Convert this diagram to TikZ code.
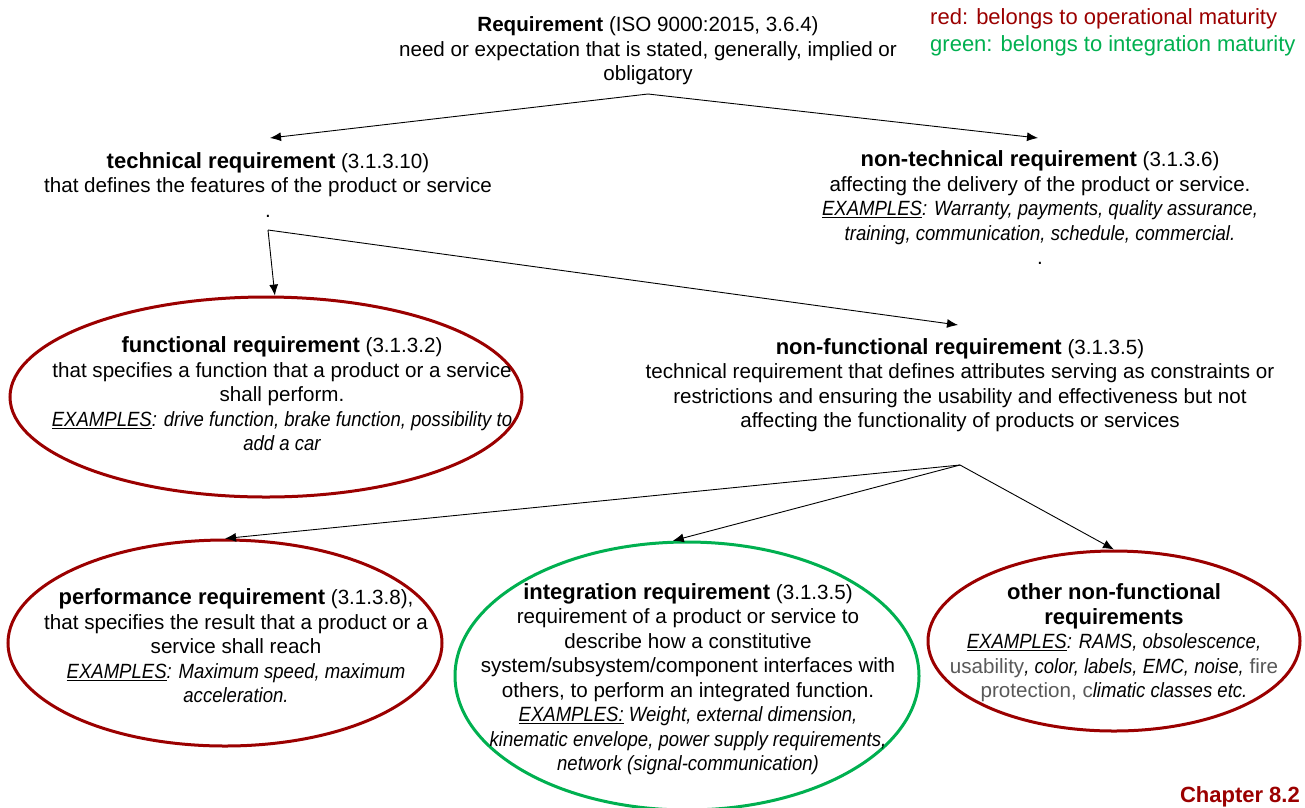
\documentclass[tikz,border=0pt]{standalone}
\usepackage{fontspec}
\setmainfont{Liberation Sans}
% condensed italic face for the example lists
\newfontfamily\exfamily{Liberation Sans}[FakeStretch=0.9]
\usetikzlibrary{shapes.geometric,arrows.meta}
\definecolor{opred}{RGB}{155,0,0}
\definecolor{intgreen}{RGB}{0,176,80}
\definecolor{softgray}{RGB}{89,89,89}
\newcommand{\exi}[1]{{\exfamily\itshape #1}}
\newcommand{\ex}[1]{\underline{\exi{#1}}}
% bold headings of the lower boxes
\newcommand{\hd}[1]{{\fontsize{22}{24.5}\selectfont\bfseries #1}}
\newcommand{\bigbf}[1]{{\fontsize{22}{26}\selectfont\bfseries #1}}
\tikzset{
  txt/.style={align=center, inner sep=0pt, font=\fontsize{20.6}{24.5}\selectfont},
  legend/.style={anchor=west, inner sep=0pt, font=\fontsize{22}{28}\selectfont},
  oval/.style={ellipse, draw, line width=3pt, inner sep=0pt},
  redoval/.style={oval, draw=opred},
  greenoval/.style={oval, draw=intgreen},
  link/.style={draw=black, line width=0.9pt, -{Latex[length=11pt,width=9pt]}}
}
\begin{document}
\begin{tikzpicture}[x=1pt,y=-1pt]
\useasboundingbox[fill=white] (0,0) rectangle (1305,807);

% legend
\node[legend, text=opred] (legred) at (930,19) {red: belongs to operational maturity};
\node[legend, text=intgreen] (leggreen) at (930,46) {green: belongs to integration maturity};

% top-level definition
\node[txt] (req) at (648,51) {\textbf{Requirement} (ISO 9000:2015, 3.6.4)\\
need or expectation that is stated, generally, implied or\\ obligatory};
\coordinate (reqfork) at (648,94);

% second level
\node[txt] (tech) at (268,185) {\hd{technical requirement} (3.1.3.10)\\
that defines the features of the product or service\\ .};
\coordinate (techin) at (270,138);
\coordinate (techfork) at (268,230);

\node[txt] (nontech) at (1040,208) {\hd{non-technical requirement} (3.1.3.6)\\
affecting the delivery of the product or service.\\
\ex{EXAMPLES}\exi{: Warranty, payments, quality assurance,}\\
\exi{training, communication, schedule, commercial.}\\ .};
\coordinate (nontechin) at (1038,138);

% third level
\node[redoval, minimum width=512pt, minimum height=200pt] (func) at (266,397) {};
\node[txt] (functxt) at (282,394) {\hd{functional requirement} (3.1.3.2)\\
that specifies a function that a product or a service\\ shall perform.\\
\ex{EXAMPLES}\exi{: drive function, brake function, possibility to}\\
\exi{add a car}};

\node[txt] (nonfunc) at (960,385) {\hd{non-functional requirement} (3.1.3.5)\\
technical requirement that defines attributes serving as constraints or\\
restrictions and ensuring the usability and effectiveness but not\\
affecting the functionality of products or services};
\coordinate (nonfuncin) at (958,325);
\coordinate (nffork) at (960,465);

% fourth level
\node[redoval, minimum width=434pt, minimum height=206pt] (perf) at (225,643) {};
\node[txt] (perftxt) at (236,646) {\hd{performance requirement} (3.1.3.8),\\
that specifies the result that a product or a\\ service shall reach\\
\ex{EXAMPLES}\exi{: Maximum speed, maximum}\\ \exi{acceleration.}};

\node[greenoval, minimum width=464pt, minimum height=268pt] (integ) at (687,676) {};
\node[txt] (integtxt) at (688,679) {\hd{integration requirement} (3.1.3.5)\\
requirement of a product or service to\\ describe how a constitutive\\
system/subsystem/component interfaces with\\ others, to perform an integrated function.\\
\ex{EXAMPLES:}\exi{ Weight, external dimension,}\\
\exi{kinematic envelope, power supply requirements,}\\
\exi{network (signal-communication)}};

\node[redoval, minimum width=372pt, minimum height=180pt] (other) at (1114,641) {};
\node[txt] (othertxt) at (1114,643) {\bigbf{other non-functional}\\
\bigbf{requirements}\\
\ex{EXAMPLES}\exi{: RAMS, obsolescence,}\\
{\color{softgray}usability}\exi{, color, labels, EMC, noise,} {\color{softgray}fire}\\
{\color{softgray}protection, c}\exi{limatic classes etc.}};

% footer
\node[anchor=east, inner sep=0pt, text=opred, font=\bfseries\fontsize{22}{24}\selectfont] (chapter) at (1300,797) {Chapter 8.2};

% connectors
\draw[line width=0.9pt] (req.south |- reqfork) -- (reqfork);
\draw[link] (reqfork) -- (techin);
\draw[link] (reqfork) -- (nontechin);
\draw[link] (techfork) -- (func.85);
\draw[link] (techfork) -- (nonfuncin);
\draw[link] (nffork) -- (perf.north);
\draw[link] (nffork) -- (integ.96);
\draw[link] (nffork) -- (other.north);
\end{tikzpicture}
\end{document}
